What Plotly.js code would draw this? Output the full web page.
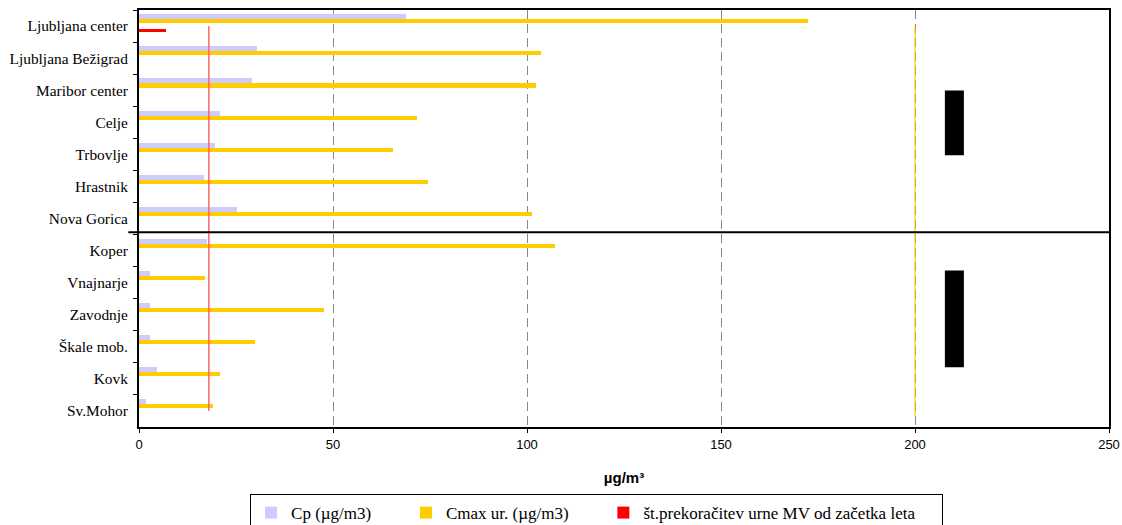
<!DOCTYPE html>
<html>
<head>
<meta charset="utf-8">
<script src="https://cdn.plot.ly/plotly-3.0.1.min.js"></script>
<style>html,body{margin:0;padding:0;background:#fff;}#chart{width:1122px;height:525px;}</style>
</head>
<body>
<div id="chart"></div>
<script>
const categories = ["Ljubljana center", "Ljubljana Bežigrad", "Maribor center", "Celje", "Trbovlje", "Hrastnik", "Nova Gorica", "Koper", "Vnajnarje", "Zavodnje", "Škale mob.", "Kovk", "Sv.Mohor"];
const cpValues = [68.9, 30.4, 29.1, 20.9, 19.6, 16.8, 25.3, 17.5, 2.8, 2.8, 2.8, 4.6, 1.8];
const cmaxValues = [172.3, 103.7, 102.4, 71.7, 65.5, 74.6, 101.4, 107.1, 17.0, 47.7, 29.9, 20.9, 19.1];
const exceedValues = [7, 0, 0, 0, 0, 0, 0, 0, 0, 0, 0, 0, 0];
const seriesNames = ["Cp (µg/m3)", "Cmax ur. (µg/m3)", "št.prekoračitev urne MV od začetka leta"];
const hourlyLimit = 200;
const allowedExceedances = 18;
const xTicks = [0, 50, 100, 150, 200, 250];

const serif = "Liberation Serif, Times New Roman, serif";
const sans = "Liberation Sans, Arial, sans-serif";
const pad = n => "\u00a0".repeat(n);

const traces = [
  {type: "bar", orientation: "h", y: categories, x: cpValues, name: seriesNames[0] + pad(7),
   marker: {color: "#ccccff"}, offset: -0.365, width: 0.155, hoverinfo: "x+y"},
  {type: "bar", orientation: "h", y: categories, x: cmaxValues, name: seriesNames[1] + pad(7),
   marker: {color: "#ffcc00"}, offset: -0.21, width: 0.128, hoverinfo: "x+y"},
  {type: "bar", orientation: "h", y: categories, x: exceedValues, name: seriesNames[2] + pad(5),
   marker: {color: "#ff0000"}, offset: 0.107, width: 0.085, hoverinfo: "x+y"}
];

const shapes = [
  {type: "line", xref: "x", yref: "y", x0: allowedExceedances, x1: allowedExceedances, y0: 0, y1: 12,
   line: {color: "#ff6666", width: 1.5}, layer: "above"},
  {type: "line", xref: "x", yref: "y", x0: hourlyLimit, x1: hourlyLimit, y0: 0, y1: 12.19,
   line: {color: "#ffcc00", width: 1.2}, layer: "above"},
  {type: "line", xref: "paper", yref: "y", x0: -0.011, x1: 1, y0: 6.43, y1: 6.43,
   line: {color: "#000", width: 2}, layer: "above"},
  {type: "rect", xref: "x", yref: "y", x0: 207.7, x1: 212.6, y0: 2.01, y1: 4.03,
   fillcolor: "#000", line: {width: 0}, layer: "above"},
  {type: "rect", xref: "x", yref: "y", x0: 207.7, x1: 212.6, y0: 7.62, y1: 10.64,
   fillcolor: "#000", line: {width: 0}, layer: "above"}
];

const layout = {
  width: 1122, height: 525,
  margin: {l: 139, r: 13, t: 10, b: 98, pad: 0},
  paper_bgcolor: "#fff", plot_bgcolor: "#fff",
  showlegend: true,
  bargap: 0, barmode: "group",
  xaxis: {
    range: [0, 250], tickvals: xTicks, ticktext: xTicks.map(String),
    ticks: "outside", ticklen: 4, tickcolor: "#000", tickwidth: 1,
    showgrid: true, gridcolor: "#888", griddash: "9px,5px", gridwidth: 1,
    zeroline: false, showline: true, linecolor: "#000", linewidth: 2, mirror: true,
    tickfont: {family: sans, size: 13, color: "#000"},
    title: {text: "<b>µg/m³</b>", font: {family: sans, size: 15, color: "#000"}, standoff: 22}
  },
  yaxis: {
    type: "category", range: [12.5, -0.5],
    ticks: "outside", ticklen: 4, tickcolor: "#000", tickwidth: 1, tickson: "boundaries",
    showgrid: false, zeroline: false, showline: true, linecolor: "#000", linewidth: 2, mirror: true,
    tickfont: {family: serif, size: 15.4, color: "#000"}, ticklabelstandoff: 6
  },
  yaxis2: {
    overlaying: "y", side: "left", range: [12.5, -0.5],
    tickvals: [0.5,1.5,2.5,3.5,4.5,5.5,6.5,7.5,8.5,9.5,10.5,11.5],
    ticks: "inside", ticklen: 4, tickcolor: "#000", tickwidth: 1,
    showticklabels: false, showgrid: false, zeroline: false, showline: false
  },
  legend: {
    orientation: "h", xref: "paper", x: 0.1145, xanchor: "left",
    yref: "container", y: 0.059, yanchor: "top",
    bgcolor: "#fff", bordercolor: "#000", borderwidth: 1,
    font: {family: serif, size: 17, color: "#000"},
    itemwidth: 30, traceorder: "normal"
  },
  shapes: shapes
};

Plotly.newPlot("chart", traces, layout, {staticPlot: true, displayModeBar: false});
</script>
</body>
</html>
